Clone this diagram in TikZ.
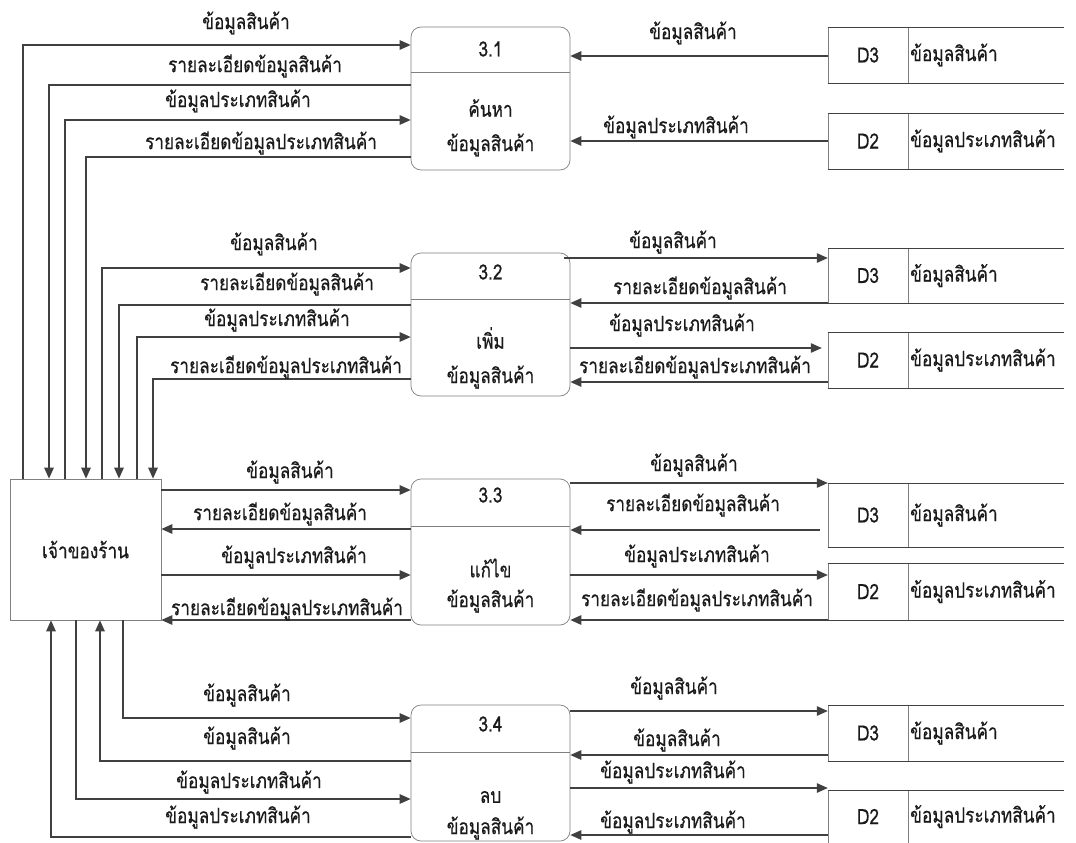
\documentclass[tikz,border=0pt]{standalone}
\usepackage{fontspec}
\newfontfamily\thaifont[Script=Thai, FakeStretch=0.82, FakeBold=0.4]{Loma}
\usetikzlibrary{arrows.meta}
\definecolor{flowgray}{HTML}{404040}
\definecolor{boxgray}{HTML}{808080}
\definecolor{txt}{HTML}{1A1A1A}

\tikzset{
  lbl/.style={font=\thaifont\fontsize{21}{24}\selectfont, text=txt, inner sep=0pt},
  flow/.style={draw=flowgray, line width=1.2pt, -{Triangle[length=11pt,width=9.5pt]}},
  procbox/.style={draw=boxgray, line width=0.7pt, rounded corners=10pt, minimum width=159pt},
  ownerbox/.style={draw=boxgray, line width=0.7pt, minimum width=151pt, minimum height=141pt, lbl},
  storecell/.style={minimum width=80pt, inner sep=0pt, lbl},
  storeline/.style={draw=flowgray, line width=0.9pt},
  cellline/.style={draw=boxgray, line width=0.7pt}
}

% data store: name, top, bottom, id, text
\newcommand\datastore[5]{%
  \node[storecell, minimum height={(#3-#2)*1pt}] (#1) at (868,{(#2+#3)/2}) {#4};
  \draw[cellline] (828,#2) -- (828,#3) (908,#2) -- (908,#3);
  \draw[storeline] (828,#2) -- (1064,#2) (828,#3) -- (1064,#3);
  \node[lbl, anchor=west] (#1t) at (910,{(#2+#3)/2}) {#5};
}
% process: name, top, bottom, divider, id y, id, line1 y, line1, line2 y
\newcommand\process[9]{%
  \node[procbox, minimum height={(#3-#2)*1pt}] (#1) at (490.5,{(#2+#3)/2}) {};
  \draw[cellline] (#1.west |- 0,#4) -- (#1.east |- 0,#4);
  \node[lbl] (#1id) at (490.5,#5) {#6};
  \node[lbl] (#1a) at (490.5,#7) {#8};
  \node[lbl] (#1b) at (490.5,#9) {ข้อมูลสินค้า};
}

\begin{document}
\begin{tikzpicture}[x=1pt,y=-1pt]
\useasboundingbox[fill=white] (0,0) rectangle (1076,843);

% external entity
\node[ownerbox] (owner) at (85.5,549.5) {เจ้าของร้าน};

% processes
\process{p1}{27}{170}{72}{49}{3.1}{108}{ค้นหา}{145}
\process{p2}{253}{396}{299}{272}{3.2}{338}{เพิ่ม}{377}
\process{p3}{479}{625}{526}{495}{3.3}{568}{แก้ไข}{601}
\process{p4}{705}{841}{752}{724}{3.4}{797}{ลบ}{828}

% data stores
\datastore{sa}{27}{83}{D3}{ข้อมูลสินค้า}
\datastore{sb}{113}{169}{D2}{ข้อมูลประเภทสินค้า}
\datastore{sc}{248}{303}{D3}{ข้อมูลสินค้า}
\datastore{sd}{332}{388}{D2}{ข้อมูลประเภทสินค้า}
\datastore{se}{483}{547}{D3}{ข้อมูลสินค้า}
\datastore{sf}{563}{620}{D2}{ข้อมูลประเภทสินค้า}
\datastore{sg}{705}{761}{D3}{ข้อมูลสินค้า}
\datastore{sh}{790}{843}{D2}{ข้อมูลประเภทสินค้า}

% ---- 3.1 search ----
\draw[flow] (owner.north -| 23,0) |- (p1.west |- 0,45);
\draw[flow] (p1.west |- 0,85) -| (owner.north -| 49,0);
\draw[flow] (owner.north -| 65,0) |- (p1.west |- 0,120);
\draw[flow] (p1.west |- 0,157) -| (owner.north -| 86,0);
\node[lbl] at (246,23) {ข้อมูลสินค้า};
\node[lbl] at (255,66) {รายละเอียดข้อมูลสินค้า};
\node[lbl] at (238,101) {ข้อมูลประเภทสินค้า};
\node[lbl] at (261,143) {รายละเอียดข้อมูลประเภทสินค้า};
\draw[flow] (sa.west |- 0,56) -- (p1.east |- 0,56);
\draw[flow] (sb.west |- 0,141) -- (p1.east |- 0,141);
\node[lbl] at (693,33) {ข้อมูลสินค้า};
\node[lbl] at (676,127) {ข้อมูลประเภทสินค้า};

% ---- 3.2 add ----
\draw[flow] (owner.north -| 102,0) |- (p2.west |- 0,268);
\draw[flow] (p2.west |- 0,305) -| (owner.north -| 119,0);
\draw[flow] (owner.north -| 137,0) |- (p2.west |- 0,337);
\draw[flow] (p2.west |- 0,379) -| (owner.north -| 153,0);
\node[lbl] at (274,244) {ข้อมูลสินค้า};
\node[lbl] at (287,284) {รายละเอียดข้อมูลสินค้า};
\node[lbl] at (277,320) {ข้อมูลประเภทสินค้า};
\node[lbl] at (286,367) {รายละเอียดข้อมูลประเภทสินค้า};
\draw[flow] ([xshift=-6pt]p2.east |- 0,258) -- (sc.west |- 0,258);
\draw[flow] (sc.west |- 0,303) -- (p2.east |- 0,303);
\draw[flow] (p2.east |- 0,348) -- ([xshift=-6pt]sd.west |- 0,348);
\draw[flow] (sd.west |- 0,382) -- (p2.east |- 0,382);
\node[lbl] at (673,242) {ข้อมูลสินค้า};
\node[lbl] at (700,288) {รายละเอียดข้อมูลสินค้า};
\node[lbl] at (682,325) {ข้อมูลประเภทสินค้า};
\node[lbl] at (695,367) {รายละเอียดข้อมูลประเภทสินค้า};

% ---- 3.3 edit ----
\draw[flow] (owner.east |- 0,490) -- (p3.west |- 0,490);
\draw[flow] (p3.west |- 0,529) -- (owner.east |- 0,529);
\draw[flow] (owner.east |- 0,575) -- (p3.west |- 0,575);
\draw[flow] (p3.west |- 0,620) -- (owner.east |- 0,620);
\node[lbl] at (290,472) {ข้อมูลสินค้า};
\node[lbl] at (280,514) {รายละเอียดข้อมูลสินค้า};
\node[lbl] at (294,557) {ข้อมูลประเภทสินค้า};
\node[lbl] at (287,609) {รายละเอียดข้อมูลประเภทสินค้า};
\draw[flow] (p3.east |- 0,483) -- (se.west |- 0,483);
\draw[flow] ([xshift=-8pt]se.west |- 0,530) -- (p3.east |- 0,530);
\draw[flow] (p3.east |- 0,575) -- (sf.west |- 0,575);
\draw[flow] (sf.west |- 0,620) -- (p3.east |- 0,620);
\node[lbl] at (694,465) {ข้อมูลสินค้า};
\node[lbl] at (693,505) {รายละเอียดข้อมูลสินค้า};
\node[lbl] at (697,556) {ข้อมูลประเภทสินค้า};
\node[lbl] at (697,600) {รายละเอียดข้อมูลประเภทสินค้า};

% ---- 3.4 delete ----
\draw[flow] (owner.south -| 123,0) |- (p4.west |- 0,718);
\draw[flow] (p4.west |- 0,761) -| (owner.south -| 100,0);
\draw[flow] (owner.south -| 76,0) |- (p4.west |- 0,799);
\draw[flow] (p4.west |- 0,837) -| (owner.south -| 51,0);
\node[lbl] at (247,695) {ข้อมูลสินค้า};
\node[lbl] at (247,738) {ข้อมูลสินค้า};
\node[lbl] at (249,782) {ข้อมูลประเภทสินค้า};
\node[lbl] at (238,817) {ข้อมูลประเภทสินค้า};
\draw[flow] (p4.east |- 0,711) -- (sg.west |- 0,711);
\draw[flow] (sg.west |- 0,755) -- (p4.east |- 0,755);
\draw[flow] (p4.east |- 0,788) -- (sh.west |- 0,788);
\draw[flow] (sh.west |- 0,835) -- (p4.east |- 0,835);
\node[lbl] at (674,688) {ข้อมูลสินค้า};
\node[lbl] at (677,740) {ข้อมูลสินค้า};
\node[lbl] at (673,772) {ข้อมูลประเภทสินค้า};
\node[lbl] at (673,822) {ข้อมูลประเภทสินค้า};
\end{tikzpicture}
\end{document}
